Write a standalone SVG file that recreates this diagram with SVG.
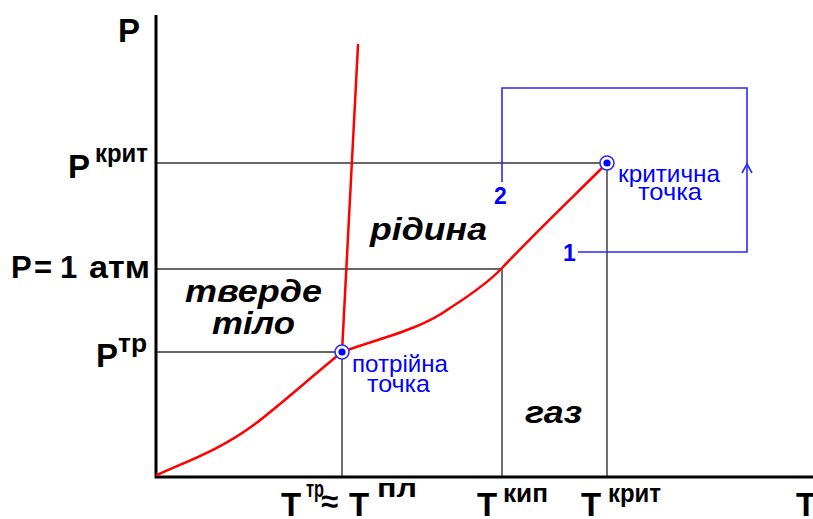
<svg xmlns="http://www.w3.org/2000/svg" width="813" height="519" viewBox="0 0 813 519">
<style>
.ax{stroke:#000;stroke-width:3;fill:none}
.gl{stroke:#333;stroke-width:1.4;fill:none}
.rc{stroke:#f00;stroke-width:2.5;fill:none;stroke-linecap:round}
.bp{stroke:#2a2aff;stroke-width:1.6;fill:none}
.lb{font-family:"Liberation Sans",Arial,sans-serif;font-weight:bold;fill:#000}
.ph{font-family:"Liberation Sans",Arial,sans-serif;font-weight:bold;font-style:italic;font-size:32px;fill:#000}
.bt{font-family:"Liberation Sans",Arial,sans-serif;font-size:24px;fill:#0000ff}
.bn{font-family:"Liberation Sans",Arial,sans-serif;font-weight:bold;font-size:23px;fill:#0000ff}
</style>
<rect width="813" height="519" fill="#fff"/>
<g id="grid">
<path class="gl" d="M156 163H607M156 269H502M156 352H342M342 352V477M502 269V477M607 163V477"/>
</g>
<g id="axes">
<path class="ax" d="M156 15V478.5M154.5 477H813"/>
</g>
<g id="curves">
<path id="sublimation" class="rc" d="M157 475C190 460 220 450 255 424C280 405 310 378 342 352"/>
<path id="melting" class="rc" d="M342 352L358 45"/>
<path id="vaporization" class="rc" d="M342 352C380 338 420 330 450 308C475 292 490 281 502 268C540 228 575 195 607 163"/>
</g>
<g id="connectors">
<path class="bp" d="M578 252H747V88H502V182"/>
<path class="bp" d="M742 173L747 164L752 173"/>
</g>
<g id="triple-point">
<circle cx="342" cy="352" r="7" fill="#fff" stroke="#2a2aff" stroke-width="1.6"/>
<circle cx="342" cy="352" r="3.6" fill="#0000ff"/>
<text class="bt" x="352" y="372" textLength="96" lengthAdjust="spacingAndGlyphs">потрійна</text>
<text class="bt" x="367" y="392" textLength="63" lengthAdjust="spacingAndGlyphs">точка</text>
</g>
<g id="critical-point">
<circle cx="607" cy="163" r="7" fill="#fff" stroke="#2a2aff" stroke-width="1.6"/>
<circle cx="607" cy="163" r="3.6" fill="#0000ff"/>
<text class="bt" x="618" y="182" textLength="102" lengthAdjust="spacingAndGlyphs">критична</text>
<text class="bt" x="638" y="200" textLength="64" lengthAdjust="spacingAndGlyphs">точка</text>
</g>
<g id="path-labels">
<text class="bn" x="494" y="204">2</text>
<text class="bn" x="563" y="261">1</text>
</g>
<g id="phases">
<text class="ph" x="185" y="302" textLength="137" lengthAdjust="spacingAndGlyphs">тверде</text>
<text class="ph" x="212" y="334" textLength="83" lengthAdjust="spacingAndGlyphs">тіло</text>
<text class="ph" x="370" y="240" textLength="117" lengthAdjust="spacingAndGlyphs">рідина</text>
<text class="ph" x="525" y="423" textLength="57" lengthAdjust="spacingAndGlyphs">газ</text>
</g>
<g id="p-labels">
<text class="lb" x="118" y="42" font-size="33">P</text>
<text class="lb" x="68" y="178" font-size="33">P</text>
<text class="lb" x="95" y="162" font-size="26" textLength="53" lengthAdjust="spacingAndGlyphs">крит</text>
<text class="lb" x="11" y="278" font-size="31">P</text>
<text class="lb" x="34" y="278" font-size="31">=</text>
<text class="lb" x="60" y="278" font-size="31">1</text>
<text class="lb" x="89" y="278" font-size="31" textLength="61" lengthAdjust="spacingAndGlyphs">атм</text>
<text class="lb" x="96" y="367" font-size="33">P</text>
<text class="lb" x="118" y="352" font-size="25" textLength="29" lengthAdjust="spacingAndGlyphs">тр</text>
</g>
<g id="t-labels">
<text class="lb" x="281" y="516" font-size="33">T</text>
<text class="lb" x="306" y="497" font-size="23" textLength="18" lengthAdjust="spacingAndGlyphs">тр</text>
<text class="lb" x="321" y="512" font-size="31">≈</text>
<text class="lb" x="349" y="516" font-size="33">T</text>
<text class="lb" x="377" y="497" font-size="25" textLength="40" lengthAdjust="spacingAndGlyphs">пл</text>
<text class="lb" x="477" y="516" font-size="33">T</text>
<text class="lb" x="503" y="502" font-size="25" textLength="45" lengthAdjust="spacingAndGlyphs">кип</text>
<text class="lb" x="581" y="516" font-size="33">T</text>
<text class="lb" x="608" y="502" font-size="25" textLength="53" lengthAdjust="spacingAndGlyphs">крит</text>
<text class="lb" x="796" y="516" font-size="33">T</text>
</g>
</svg>
